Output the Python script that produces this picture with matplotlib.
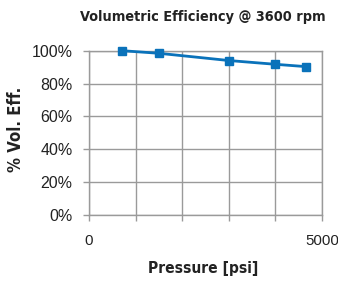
import matplotlib.pyplot as plt
from matplotlib.transforms import ScaledTranslation
from matplotlib.ticker import MultipleLocator, FuncFormatter

pressure = [700, 1500, 3000, 4000, 4650]
vol_eff = [1.00, 0.984, 0.94, 0.917, 0.903]

fig = plt.figure(figsize=(3.38, 2.83), dpi=100)
fig.set_facecolor('white')
ax = fig.add_axes([0.263, 0.24, 0.69, 0.581])

grid_c = '#9a9a9a'
ax.plot(pressure, vol_eff, color='#0a72ba', lw=2, marker='s', ms=5.5, zorder=3, clip_on=False)

ax.set_xlim(0, 5000)
ax.set_ylim(0, 1.0)
ax.xaxis.set_major_locator(MultipleLocator(5000))
ax.xaxis.set_minor_locator(MultipleLocator(1000))
ax.yaxis.set_major_locator(MultipleLocator(0.2))
ax.yaxis.set_major_formatter(FuncFormatter(lambda v, p: f'{v * 100:.0f}%'))

ax.grid(True, which='both', color=grid_c, lw=1)
for s in ax.spines.values():
    s.set_color(grid_c)
    s.set_linewidth(1)
ax.tick_params(axis='both', which='both', color=grid_c, width=1, length=4.3, direction='out')
ax.tick_params(axis='y', labelsize=11.5, pad=7.5, labelcolor='#222222')
ax.tick_params(axis='x', labelsize=10.8, pad=9, labelcolor='#222222')
for lab in ax.get_xticklabels() + ax.get_yticklabels():
    lab.set_fontfamily('Liberation Sans')
fig.canvas.draw()
xl = ax.get_xticklabels()
xl[-1].set_transform(xl[-1].get_transform() + ScaledTranslation(-5 / 100, 0, fig.dpi_scale_trans))

cond = dict(fontweight='bold', family='DejaVu Sans', stretch='condensed', color='#222222')
fig.text(0.60, 0.94, 'Volumetric Efficiency @ 3600 rpm', ha='center', va='center', fontsize=10.4, **cond)
fig.text(0.60, 0.05, 'Pressure [psi]', ha='center', va='center', fontsize=11.2, **cond)
fig.text(0.047, 0.544, '% Vol. Eff.', ha='center', va='center', rotation=90, fontsize=12, **cond)

plt.savefig('out.png', dpi=100)
